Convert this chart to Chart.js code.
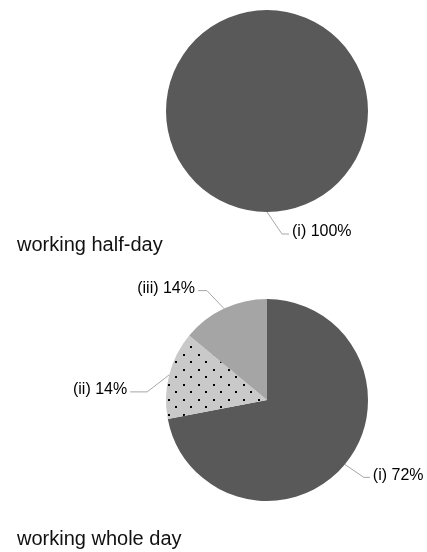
<!DOCTYPE html>
<html>
<head>
<meta charset="utf-8">
<script src="https://cdn.jsdelivr.net/npm/chart.js@4"></script>
<style>
  html, body { margin: 0; padding: 0; background: #fff; }
  body { width: 427px; height: 552px; position: relative; overflow: hidden; }
  canvas { position: absolute; left: 0; }
</style>
</head>
<body>
<canvas id="halfDay" width="427" height="276" style="top:0"></canvas>
<canvas id="wholeDay" width="427" height="276" style="top:276px"></canvas>
<script>
// Dados dos gráficos
const chartTitles = ['working half-day', 'working whole day'];
const halfDayLabels = ['(i)'];
const halfDayValues = [100];
const wholeDayLabels = ['(i)', '(ii)', '(iii)'];
const wholeDayValues = [72, 14, 14];

// Padrão pontilhado para a fatia (ii)
function dotPattern() {
    const c = document.createElement('canvas');
    c.width = 15; c.height = 15;
    const g = c.getContext('2d');
    g.fillStyle = '#c9c9c9';
    g.fillRect(0, 0, 15, 15);
    g.fillStyle = '#000';
    g.fillRect(3, 3, 2, 2);
    g.fillRect(10, 10, 2, 2);
    return g.createPattern(c, 'repeat');
}

// Rótulos com linhas de chamada + título
const leaderLabels = {
    id: 'leaderLabels',
    afterDatasetsDraw(chart, args, opts) {
        const ctx = chart.ctx;
        const meta = chart.getDatasetMeta(0);
        const values = chart.data.datasets[0].data;
        const total = values.reduce((a, b) => a + b, 0);
        ctx.save();
        meta.data.forEach((arc, i) => {
            const p = arc.getProps(['x', 'y', 'startAngle', 'endAngle', 'outerRadius']);
            const mid = (p.startAngle + p.endAngle) / 2;
            const ax = p.x + Math.cos(mid) * p.outerRadius;
            const ay = p.y + Math.sin(mid) * p.outerRadius;
            const l = opts.lines[i];
            const ex = ax + l.dx, ey = ay + l.dy;
            const tx = ex + l.h;
            ctx.strokeStyle = '#a6a6a6';
            ctx.lineWidth = 1;
            ctx.beginPath();
            ctx.moveTo(ax, ay);
            ctx.lineTo(ex, ey);
            ctx.lineTo(tx, ey);
            ctx.stroke();
            const text = chart.data.labels[i] + ' ' + Math.round(values[i] / total * 100) + '%';
            ctx.fillStyle = '#000';
            ctx.font = '16px "Liberation Sans", Arial, sans-serif';
            ctx.textAlign = l.h >= 0 ? 'left' : 'right';
            ctx.textBaseline = 'middle';
            ctx.fillText(text, tx + (l.h >= 0 ? 3 : -3), ey - 2);
        });
        ctx.textAlign = 'left';
        ctx.textBaseline = 'alphabetic';
        ctx.font = '20px "Liberation Sans", Arial, sans-serif';
        ctx.fillStyle = '#111';
        ctx.fillText(opts.title, 17, opts.titleY);
        ctx.restore();
    }
};

function makePie(id, labels, values, colors, padding, lines, title, titleY) {
    new Chart(document.getElementById(id), {
        type: 'pie',
        data: {
            labels: labels,
            datasets: [{
                data: values,
                backgroundColor: colors,
                borderWidth: 0
            }]
        },
        options: {
            responsive: false,
            animation: false,
            layout: { padding: padding },
            plugins: {
                legend: { display: false },
                tooltip: { enabled: false },
                leaderLabels: { lines: lines, title: title, titleY: titleY }
            }
        },
        plugins: [leaderLabels]
    });
}

makePie('halfDay', halfDayLabels, halfDayValues, ['#595959'],
    { left: 166, right: 59, top: 10, bottom: 64 },
    [{ dx: 15, dy: 22, h: 7 }],
    chartTitles[0], 251);

makePie('wholeDay', wholeDayLabels, wholeDayValues, ['#595959', dotPattern(), '#a5a5a5'],
    { left: 166, right: 59, top: 23, bottom: 51 },
    [{ dx: 19, dy: 13, h: 6 }, { dx: -22, dy: 17, h: -17 }, { dx: -17, dy: -18, h: -9 }],
    chartTitles[1], 269);
</script>
</body>
</html>
